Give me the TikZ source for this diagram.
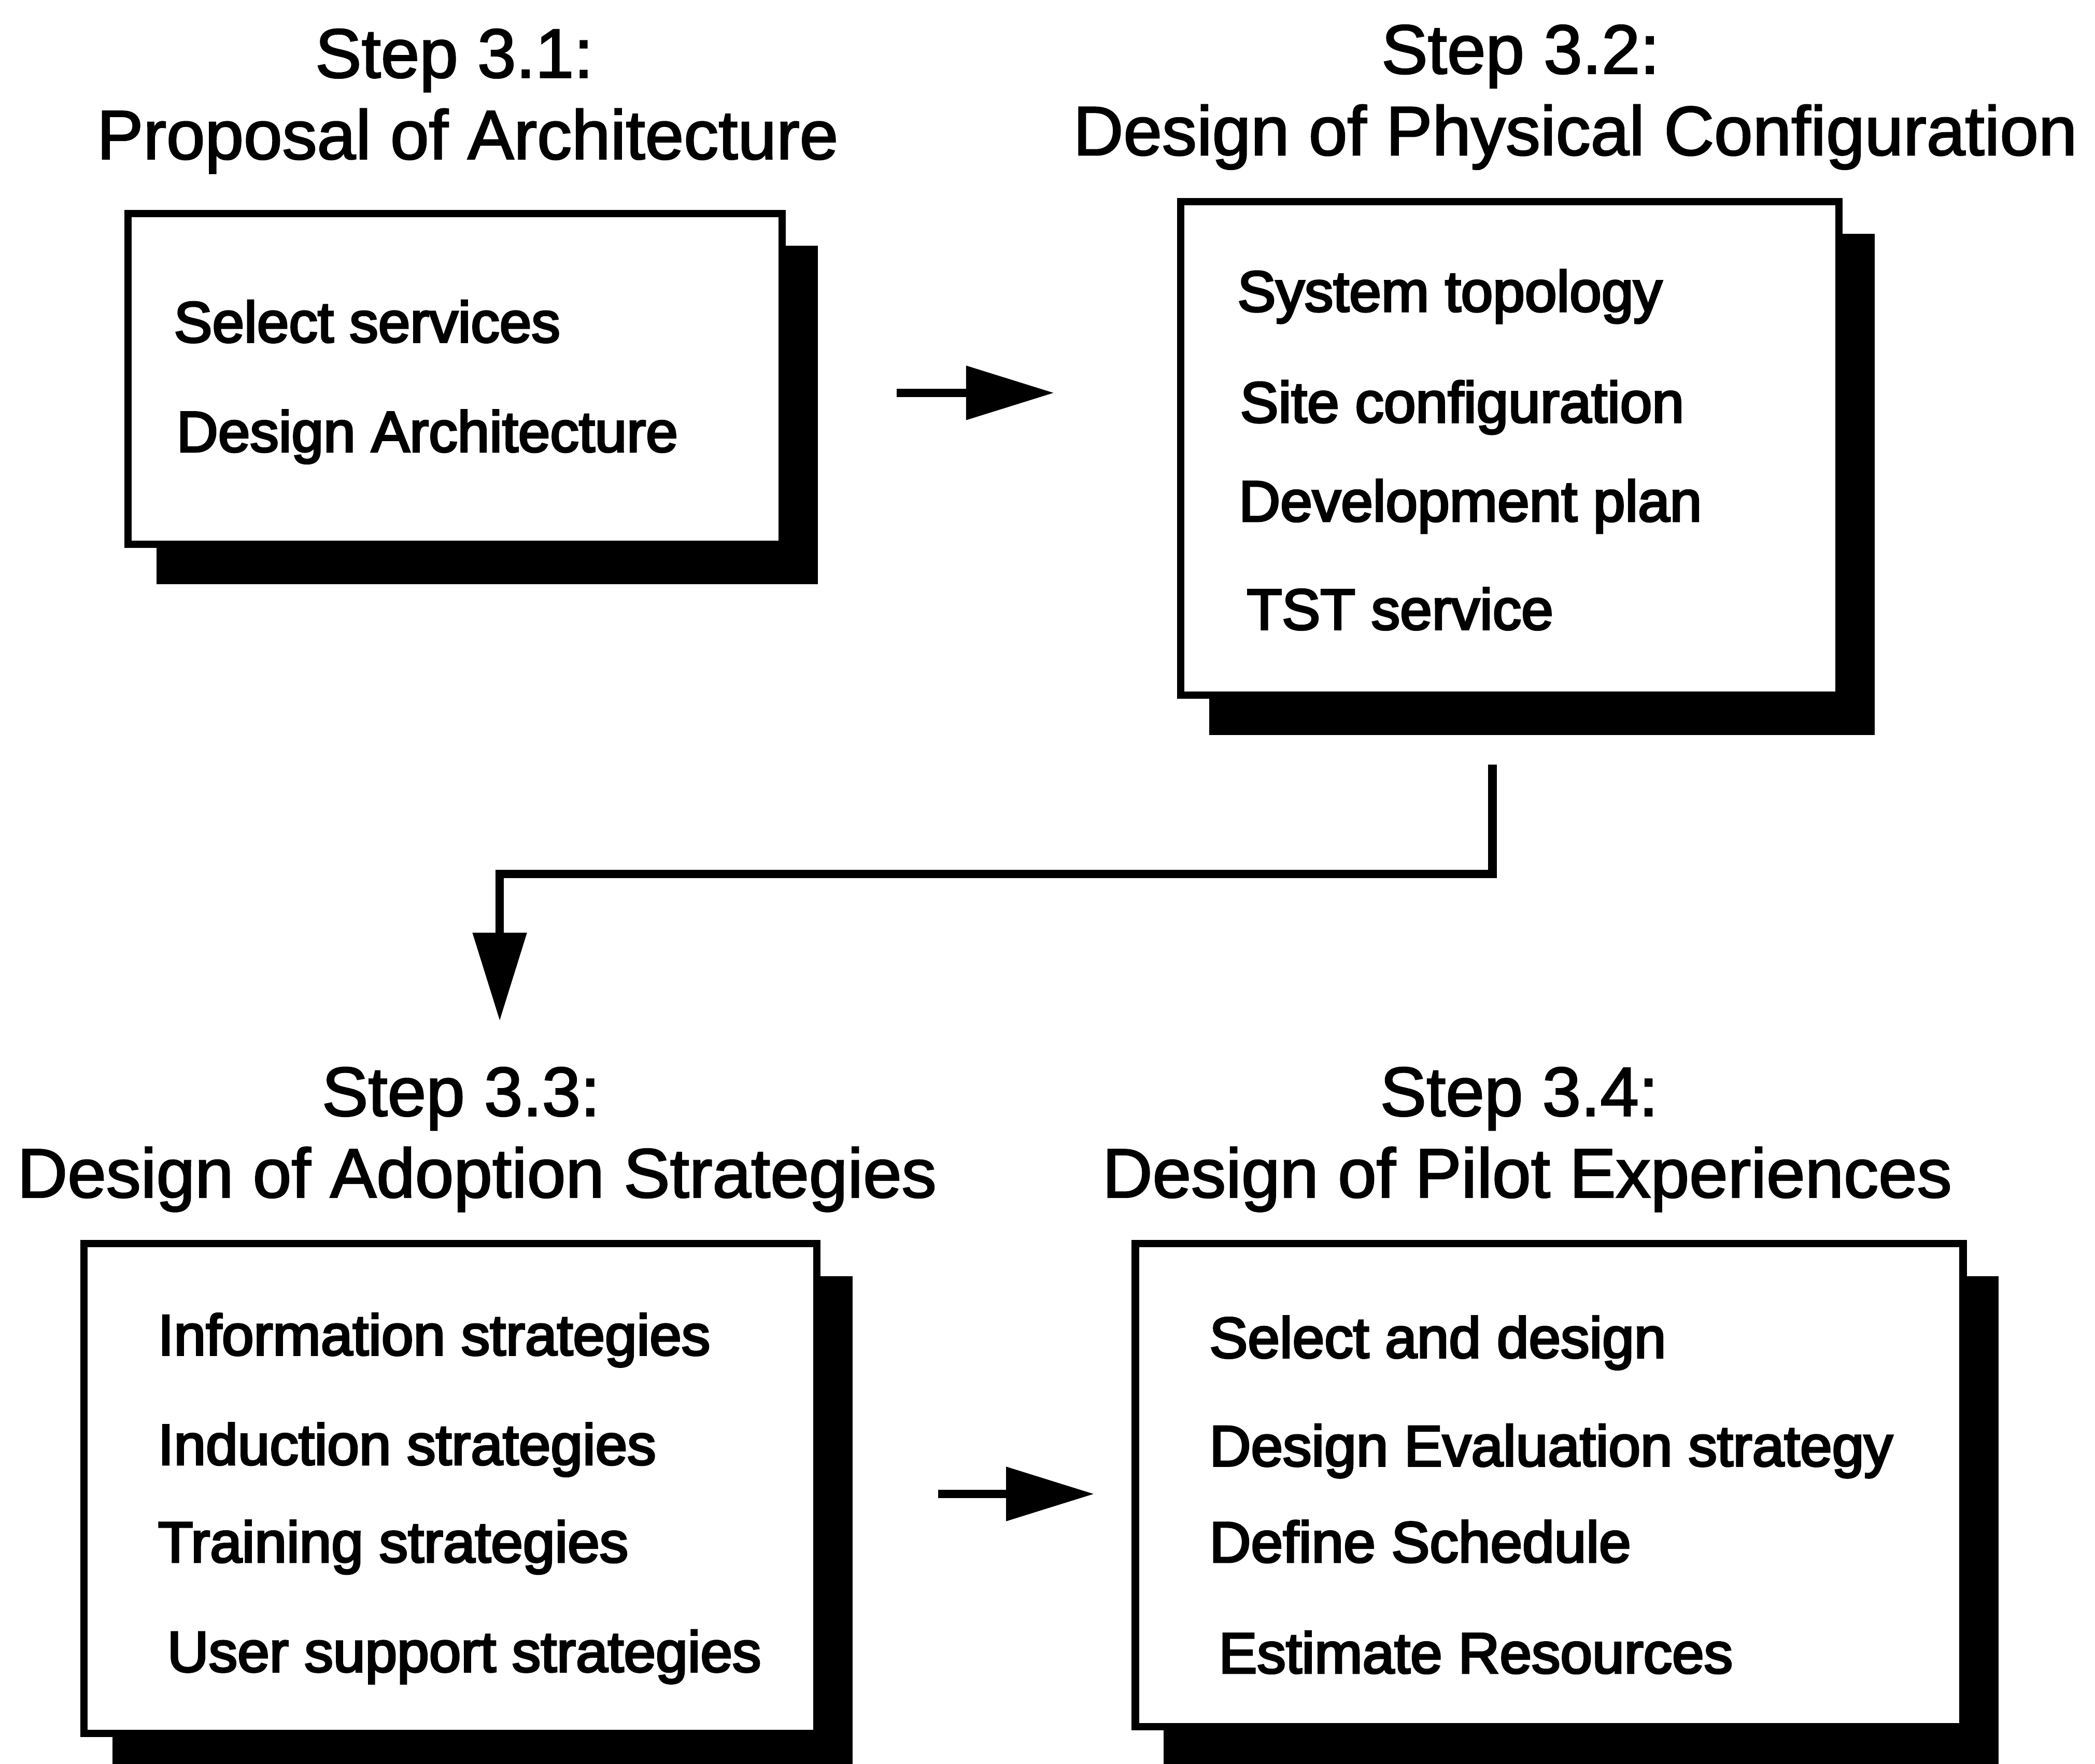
\documentclass[tikz,border=0pt]{standalone}
\usepackage{fontspec}
\setmainfont{Liberation Sans}
\newfontfamily\headfont[FakeBold=2]{Liberation Sans}
\newfontfamily\itemfont[FakeBold=3.5]{Liberation Sans}
\usetikzlibrary{arrows.meta,backgrounds}
\tikzset{
  box/.style={draw, line width=5.5pt, fill=white, rectangle, inner sep=0pt},
  head/.style={anchor=base, inner sep=0pt, font=\headfont\fontsize{52}{60}\selectfont},
  item/.style={anchor=base west, inner sep=0pt, font=\itemfont\fontsize{43}{50}\selectfont},
  conn/.style={line width=6.5pt, -{Triangle[length=66pt,width=39pt]}},
  shadowfill/.style={fill=black}
}
\begin{document}
\begin{tikzpicture}[x=1pt,y=-1pt]
\useasboundingbox (0,0) rectangle (1568,1320);

% headings
\node[head] (h1a) at (340,58) {Step 3.1:};
\node[head] (h1b) at (350,119) {Proposal of Architecture};
\node[head] (h2a) at (1138,55) {Step 3.2:};
\node[head] (h2b) at (1179,116) {Design of Physical Configuration};
\node[head] (h3a) at (345,835) {Step 3.3:};
\node[head] (h3b) at (357,896) {Design of Adoption Strategies};
\node[head] (h4a) at (1137,835) {Step 3.4:};
\node[head] (h4b) at (1143,896) {Design of Pilot Experiences};

% boxes
\node[box, minimum width=489.5pt, minimum height=247.5pt] (b1) at (340.5,283.5) {};
\node[box, minimum width=492.5pt, minimum height=369.5pt] (b2) at (1130,335.5) {};
\node[box, minimum width=548.5pt, minimum height=366.5pt] (b3) at (337,1114) {};
\node[box, minimum width=619.5pt, minimum height=361.5pt] (b4) at (1159.5,1111.5) {};

\begin{scope}[on background layer]
  \fill[white] (0,0) rectangle (1568,1320);
  \foreach \b in {b1,b2,b3,b4}{
    \fill[shadowfill] ([shift={(24,27)}]\b.north west) rectangle ([shift={(24,27)}]\b.south east);
  }
\end{scope}

% box texts
\node[item] (t11) at (130,256) {Select services};
\node[item] (t12) at (132,338) {Design Architecture};

\node[item] (t21) at (926,233) {System topology};
\node[item] (t22) at (928,316) {Site configuration};
\node[item] (t23) at (927,390) {Development plan};
\node[item] (t24) at (933,471) {TST service};

\node[item] (t31) at (118,1014) {Information strategies};
\node[item] (t32) at (118,1096) {Induction strategies};
\node[item] (t33) at (118,1169) {Training strategies};
\node[item] (t34) at (125,1251) {User support strategies};

\node[item] (t41) at (905,1016) {Select and design};
\node[item] (t42) at (905,1097) {Design Evaluation strategy};
\node[item] (t43) at (905,1169) {Define Schedule};
\node[item] (t44) at (912,1252) {Estimate Resources};

% connectors
\coordinate (y1) at (0,294);
\coordinate (y2) at (0,1118);
\coordinate (e1) at (1117,654);
\coordinate (e2) at (374,654);

\draw[conn, shorten <=83pt, shorten >=92pt] (b1.east |- y1) -- (b2.west |- y1);
\draw[conn, shorten <=88pt, shorten >=28pt] (b3.east |- y2) -- (b4.west |- y2);
\draw[conn, shorten <=49pt, shorten >=164pt] (e1 |- b2.south) -- (e1) -- (e2) -- (e2 |- b3.north);
\end{tikzpicture}
\end{document}
